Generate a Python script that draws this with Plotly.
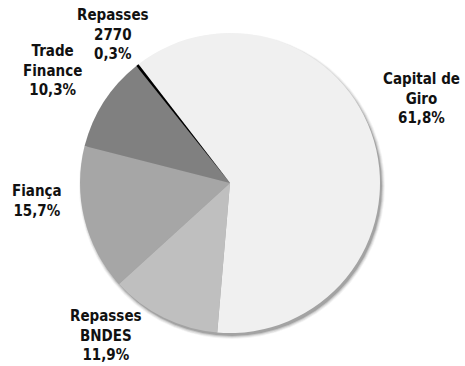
import plotly.graph_objects as go

# Loan portfolio breakdown by product
categories = ["Capital de Giro", "Repasses BNDES", "Fiança", "Trade Finance", "Repasses 2770"]
label_lines = [["Capital de", "Giro"], ["Repasses", "BNDES"], ["Fiança"], ["Trade", "Finance"], ["Repasses", "2770"]]
shares = [61.8, 11.9, 15.7, 10.3, 0.3]
colors = ["#f0f0f0", "#bfbfbf", "#a6a6a6", "#808080", "#000000"]

W, H = 465, 366
cx, cy, r = 230, 183, 150
# label block centres in pixels (x, y of the block centre)
label_pos = [(421, 98), (106, 335), (37, 201), (52, 70), (113, 34)]

fig = go.Figure()
fig.add_trace(go.Pie(
    labels=categories,
    values=shares,
    sort=False,
    direction="clockwise",
    rotation=-37.6,
    marker=dict(colors=colors, line=dict(width=0)),
    textinfo="none",
    hoverinfo="label+percent",
    showlegend=False,
    domain=dict(x=[(cx - r) / W, (cx + r) / W], y=[1 - (cy + r) / H, 1 - (cy - r) / H]),
))

# soft drop shadow under the disc, offset towards the lower right
for grow, op in [(3, 0.06), (2, 0.10), (1, 0.16), (0, 0.25)]:
    rr = r + grow
    sx, sy = cx + 2, cy + 3
    fig.add_shape(type="circle", xref="paper", yref="paper", layer="below",
                  x0=(sx - rr) / W, x1=(sx + rr) / W,
                  y0=1 - (sy + rr) / H, y1=1 - (sy - rr) / H,
                  fillcolor=f"rgba(60,60,60,{op})", line=dict(width=0))

for lines, v, (px, py) in zip(label_lines, shares, label_pos):
    text = "<br>".join(lines + [f"{v:.1f}%".replace(".", ",")])
    fig.add_annotation(x=px / W, y=1 - py / H, xref="paper", yref="paper",
                       text=f"<b>{text}</b>", showarrow=False, xanchor="center", yanchor="middle",
                       align="center",
                       font=dict(family="DejaVu Sans Condensed, DejaVu Sans", size=15, color="#111111"))

fig.update_layout(width=W, height=H, margin=dict(l=0, r=0, t=0, b=0),
                  paper_bgcolor="white", plot_bgcolor="white")
fig.write_html("out.html")
